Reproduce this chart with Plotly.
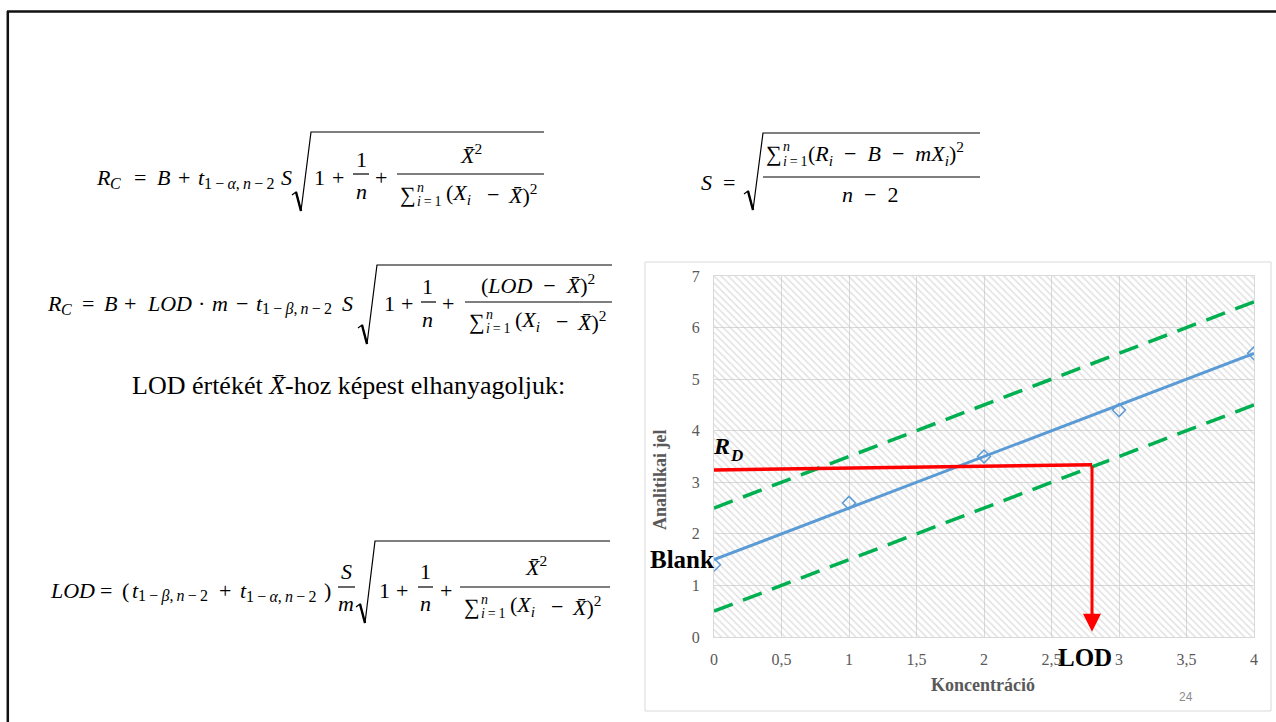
import plotly.graph_objects as go

# ---------------- data ----------------
conc = [0, 1, 2, 3, 4]
signal = [1.4, 2.6, 3.5, 4.4, 5.5]
fit_x = [0, 4]
fit_y = [1.5, 5.5]
upper_y = [2.5, 6.5]
lower_y = [0.5, 4.5]
rd_x = [0, 2.8]
rd_y = [3.24, 3.34]
lod_x = 2.8
lod_top = 3.34
lod_tip = 0.1
x_range = [0, 4]
y_range = [0, 7]
x_ticks = [0, 0.5, 1, 1.5, 2, 2.5, 3, 3.5, 4]
x_ticktext = ["0", "0,5", "1", "1,5", "2", "2,5", "3", "3,5", "4"]
y_ticks = [0, 1, 2, 3, 4, 5, 6, 7]

W, H = 1276, 722
MF = "Liberation Serif"
GRAY = "#595959"
FS = 22   # main formula size
SS = 16   # subscript size
ann = []
shp = []


def P(x, y):
    return x / W, 1 - y / H


def T(x, y, s, size=FS, xa="left", color="black", family=MF, angle=0):
    px, py = P(x, y)
    ann.append(dict(x=px, y=py, xref="paper", yref="paper", text=s, showarrow=False,
                    xanchor=xa, yanchor="middle", textangle=angle,
                    font=dict(family=family, size=size, color=color)))


def LN(x0, y0, x1, y1, w=1.2, color="black"):
    a, b = P(x0, y0)
    c, d = P(x1, y1)
    shp.append(dict(type="line", xref="paper", yref="paper", x0=a, y0=b, x1=c, y1=d,
                    line=dict(color=color, width=w)))


def RAD(x0, ytop, ybot, xend):
    pts = [(x0, ybot - 16), (x0 + 4, ybot - 19), (x0 + 9, ybot), (x0 + 19, ytop), (xend, ytop)]
    path = ""
    for i, (x, y) in enumerate(pts):
        px, py = P(x, y)
        path += ("M" if i == 0 else " L") + f"{px:.5f},{py:.5f}"
    shp.append(dict(type="path", xref="paper", yref="paper", path=path,
                    line=dict(color="black", width=1.2)))
    LN(x0 + 4, ybot - 19, x0 + 9, ybot, w=2.4)


XB = "<i>X\u0304</i>"
TS = "\u2009"
EN = "\u2002"


def sumden(xl, y):
    T(xl, y, "\u2211", FS)
    T(xl + 17, y - 7, "<i>n</i>", 14)
    T(xl + 17, y + 7, "<i>i</i>" + TS + "=" + TS + "1", 14)
    T(xl + 46, y, "(<i>X</i><sub><i>i</i></sub>", FS)
    T(xl + 95, y, "\u2212", FS, xa="center")
    T(xl + 108, y, XB + ")<sup>2</sup>", FS)


sub_a = "1" + TS + "\u2212" + TS + "<i>\u03b1</i>," + TS + "<i>n</i>" + TS + "\u2212" + TS + "2"
sub_b = "1" + TS + "\u2212" + TS + "<i>\u03b2</i>," + TS + "<i>n</i>" + TS + "\u2212" + TS + "2"

# ---- formula 1 ----
y = 177
T(94, y, "<i>R</i>")
T(108, y + 6, "<i>C</i>", SS)
T(140, y, "=", xa="center")
T(155, y, "<i>B</i>")
T(184, y, "+", xa="center")
T(196, y, "<i>t</i>")
T(202, y + 6, sub_a, SS)
T(279, y, "<i>S</i>")
RAD(292, 132, 211, 544)
T(319, y, "1", xa="center")
T(338, y, "+", xa="center")
T(361, 159, "1", xa="center")
LN(353, 174, 369, 174)
T(361, 191, "<i>n</i>", xa="center")
T(381, y, "+", xa="center")
T(471, 154, XB + "<sup>2</sup>", xa="center")
LN(397, 174, 544, 174)
sumden(398, 194)

# ---- formula S ----
T(699, 182, "<i>S</i>")
T(729, 182, "=", xa="center")
RAD(744, 133, 210, 980)
T(764, 154, "\u2211", FS)
T(781, 147, "<i>n</i>", 14)
T(781, 161, "<i>i</i>" + TS + "=" + TS + "1", 14)
T(806, 154, "(<i>R</i><sub><i>i</i></sub>" + EN + "\u2212" + EN + "<i>B</i>" + EN + "\u2212" + EN +
  "<i>mX</i><sub><i>i</i></sub>)<sup>2</sup>")
LN(763, 177, 980, 177)
T(870, 195, "<i>n</i>" + EN + "\u2212" + EN + "2", xa="center")

# ---- formula 2 ----
y = 303
T(45, y, "<i>R</i>")
T(59, y + 6, "<i>C</i>", SS)
T(88, y, "=", xa="center")
T(102, y, "<i>B</i>")
T(130, y, "+", xa="center")
T(145, y, "<i>LOD</i>")
T(201, y, "\u00b7", xa="center")
T(210, y, "<i>m</i>")
T(242, y, "\u2212", xa="center")
T(254, y, "<i>t</i>")
T(260, y + 6, sub_b, SS)
T(340, y, "<i>S</i>")
RAD(358, 265, 344, 612)
T(389, y, "1", xa="center")
T(407, y, "+", xa="center")
T(428, 286, "1", xa="center")
LN(421, 302, 436, 302)
T(428, 319, "<i>n</i>", xa="center")
T(448, y, "+", xa="center")
T(538, 284, "(<i>LOD</i>" + EN + "\u2212" + EN + XB + ")<sup>2</sup>", xa="center")
LN(465, 302, 612, 302)
sumden(467, 321)

# ---- text line ----
T(130, 385, "LOD értékét " + XB + "-hoz képest elhanyagoljuk:", 26)

# ---- formula 3 ----
y = 590
T(48, y, "<i>LOD</i>")
T(106, y, "=", xa="center")
T(120, y, "(")
T(130, y, "<i>t</i>")
T(136, y + 6, sub_b, SS)
T(225, y, "+", xa="center")
T(238, y, "<i>t</i>")
T(244, y + 6, sub_a, SS)
T(322, y, ")")
T(346, 571, "<i>S</i>", xa="center")
LN(338, 587, 355, 587)
T(346, 603, "<i>m</i>", xa="center")
RAD(356, 541, 623, 610)
T(384, y, "1", xa="center")
T(402, y, "+", xa="center")
T(425, 571, "1", xa="center")
LN(418, 587, 433, 587)
T(425, 603, "<i>n</i>", xa="center")
T(446, y, "+", xa="center")
T(536, 566, XB + "<sup>2</sup>", xa="center")
LN(460, 587, 610, 587)
sumden(462, 606)

# ---- slide border & chart frame ----
LN(7, 11.5, 1276, 11.5, w=2.5, color="#111111")
LN(7.8, 11, 7.8, 722, w=2.5, color="#111111")
a, b = P(645, 262)
c, d = P(1271, 711)
shp.append(dict(type="rect", xref="paper", yref="paper", x0=a, y0=d, x1=c, y1=b,
                line=dict(color="#d9d9d9", width=1)))

# ---- chart labels ----
T(660, 480, "<b>Analitikai jel</b>", 18, xa="center", color=GRAY, angle=-90)
T(983, 685, "<b>Koncentráció</b>", 18, xa="center", color=GRAY)
T(1186, 697, "24", 12, xa="center", color="#8c8c8c", family="Liberation Sans")
T(711, 446, "<b><i>R</i></b>", 24)
T(728, 455, "<b><i>D</i></b>", 17)
T(682, 559, "<b>Blank</b>", 25, xa="center")

fig = go.Figure()
# hatched plot background
fig.add_trace(go.Scatter(
    x=[x_range[0], x_range[1], x_range[1], x_range[0], x_range[0]],
    y=[y_range[0], y_range[0], y_range[1], y_range[1], y_range[0]],
    mode="lines", line=dict(width=0), fill="toself", fillcolor="rgba(0,0,0,0)",
    fillpattern=dict(shape="\\", fgcolor="#c4c4c4", bgcolor="rgba(0,0,0,0)", size=5, solidity=0.3),
    hoverinfo="skip", showlegend=False))
fig.add_trace(go.Scatter(x=fit_x, y=upper_y, mode="lines",
                         line=dict(color="#00b050", width=3.5, dash="20px,11px"), showlegend=False))
fig.add_trace(go.Scatter(x=fit_x, y=lower_y, mode="lines",
                         line=dict(color="#00b050", width=3.5, dash="20px,11px"), showlegend=False))
fig.add_trace(go.Scatter(x=fit_x, y=fit_y, mode="lines",
                         line=dict(color="#5b9bd5", width=3), showlegend=False))
fig.add_trace(go.Scatter(x=conc, y=signal, mode="markers",
                         marker=dict(symbol="diamond-open", size=10, color="#5b9bd5",
                                     line=dict(width=1.5, color="#5b9bd5")), showlegend=False))
fig.add_trace(go.Scatter(x=rd_x, y=rd_y, mode="lines",
                         line=dict(color="#ff0000", width=3.5), showlegend=False))

ann.append(dict(x=lod_x, y=lod_tip, ax=lod_x, ay=lod_top, xref="x", yref="y", axref="x", ayref="y",
                showarrow=True, arrowhead=2, arrowsize=1.2, arrowwidth=3, arrowcolor="#ff0000",
                standoff=0, text=""))
T(1085, 657, "<b>LOD</b>", 25, xa="center")

fig.update_layout(
    width=W, height=H, margin=dict(l=0, r=0, t=0, b=0, pad=0, autoexpand=False),
    paper_bgcolor="white", plot_bgcolor="white", showlegend=False,
    xaxis=dict(domain=[714 / W, 1254 / W], range=x_range, tickvals=x_ticks, ticktext=x_ticktext,
               showgrid=True, gridcolor="#d9d9d9", gridwidth=1, zeroline=False, automargin=False,
               showline=True, linecolor="#d9d9d9", mirror=True, ticks="",
               tickfont=dict(family=MF, size=16, color=GRAY), ticklabelstandoff=8),
    yaxis=dict(domain=[1 - 637 / H, 1 - 276 / H], range=y_range, tickvals=y_ticks,
               showgrid=True, gridcolor="#d9d9d9", gridwidth=1, zeroline=False, automargin=False,
               showline=True, linecolor="#d9d9d9", mirror=True, ticks="",
               tickfont=dict(family=MF, size=16, color=GRAY), ticklabelstandoff=10),
    annotations=ann, shapes=shp,
)
fig.write_html(
    "out.html",
    config={"displayModeBar": False},
    post_script=("var d=document.getElementById('{plot_id}');"
                 "d.style.position='fixed';d.style.left='0px';d.style.top='0px';"
                 "document.body.style.margin='0px';document.body.style.overflow='hidden';"
                 "document.documentElement.style.overflow='hidden';"),
)
